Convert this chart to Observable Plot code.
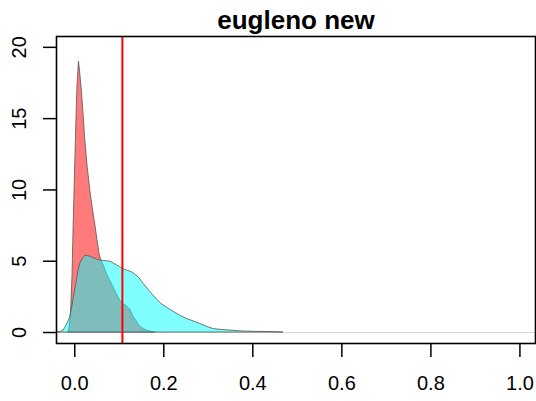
<!DOCTYPE html>
<html>
<head>
<meta charset="utf-8">
<script src="https://cdn.jsdelivr.net/npm/d3@7"></script>
<script src="https://cdn.jsdelivr.net/npm/@observablehq/plot@0.6"></script>
<style>
  html, body { margin: 0; padding: 0; background: #fff; }
  #chart svg { display: block; }
</style>
</head>
<body>
<div id="chart"></div>
<script>
const title = "eugleno new";

const redX = [-0.014, -0.011, -0.008, -0.005, -0.003, 0.000, 0.003, 0.006, 0.0094, 0.012, 0.016, 0.020, 0.0236, 0.029, 0.0348, 0.040, 0.046, 0.051, 0.0557, 0.0596, 0.065, 0.0723, 0.080, 0.087, 0.095, 0.102, 0.110, 0.117, 0.125, 0.132, 0.140, 0.147, 0.155, 0.162, 0.172, 0.181];
const redY = [0, 0.4, 1.6, 4.0, 6.8, 10.5, 14.0, 17.2, 19.0, 18.3, 16.9, 15.2, 13.5, 11.6, 10.0, 8.8, 7.6, 6.5, 5.5, 5.05, 4.7, 4.1, 3.6, 3.18, 2.65, 2.24, 1.95, 1.85, 1.6, 1.1, 0.75, 0.4, 0.25, 0.14, 0.05, 0];

const cyanX = [-0.040, -0.034, -0.030, -0.025, -0.020, -0.015, -0.010, -0.005, 0.000, 0.005, 0.0086, 0.012, 0.016, 0.020, 0.024, 0.030, 0.036, 0.042, 0.050, 0.057, 0.065, 0.072, 0.080, 0.087, 0.094, 0.102, 0.108, 0.113, 0.120, 0.128, 0.135, 0.143, 0.150, 0.155, 0.165, 0.175, 0.185, 0.195, 0.207, 0.222, 0.237, 0.252, 0.267, 0.282, 0.297, 0.312, 0.330, 0.350, 0.372, 0.402, 0.440, 0.469];
const cyanY = [0, 0.02, 0.05, 0.14, 0.4, 0.7, 1.07, 1.9, 2.8, 3.7, 4.35, 4.8, 5.05, 5.25, 5.38, 5.36, 5.3, 5.22, 5.12, 5.05, 5.02, 5.0, 4.97, 4.85, 4.72, 4.58, 4.48, 4.4, 4.32, 4.23, 4.08, 3.88, 3.62, 3.41, 3.02, 2.66, 2.3, 2.0, 1.75, 1.45, 1.18, 0.95, 0.78, 0.6, 0.4, 0.24, 0.18, 0.14, 0.08, 0.05, 0.03, 0];

const xTicks = [0, 0.2, 0.4, 0.6, 0.8, 1.0];
const yTicks = [0, 5, 10, 15, 20];
const vlineX = [0.107];

const red = redX.map((x, i) => ({x, y: redY[i]}));
const cyan = cyanX.map((x, i) => ({x, y: cyanY[i]}));

const chart = Plot.plot({
  width: 536,
  height: 401,
  marginTop: 36,
  marginBottom: 58,
  marginLeft: 56,
  marginRight: 1,
  style: {fontFamily: "'Liberation Sans', Arial, sans-serif", background: "#fff", color: "#000"},
  x: {domain: [-0.041, 1.035], ticks: xTicks, tickFormat: d3.format(".1f"), label: null},
  y: {domain: [-0.77, 20.76], ticks: yTicks, label: null},
  marks: [
    Plot.ruleY([0], {stroke: "#d8d8d8", strokeWidth: 1}),
    Plot.areaY(red, {x: "x", y: "y", fill: "#ff0000", fillOpacity: 0.52, stroke: "#555", strokeWidth: 0.8}),
    Plot.areaY(cyan, {x: "x", y: "y", fill: "#00ffff", fillOpacity: 0.5, stroke: "#555", strokeWidth: 0.8}),
    Plot.ruleX(vlineX, {stroke: "#ff0000", strokeWidth: 2}),
    Plot.frame({stroke: "#000", strokeWidth: 1.6}),
    Plot.axisX({ticks: xTicks, tickFormat: d3.format(".1f"), tickSize: 14, tickPadding: 18, fontSize: 20, stroke: "#000", strokeWidth: 1.5}),
    Plot.axisY({ticks: yTicks, tickSize: 13, tickPadding: 18, tickRotate: -90, fontSize: 20, stroke: "#000", strokeWidth: 1.5}),
    Plot.text([title], {frameAnchor: "top", dy: -16, lineAnchor: "middle", fontSize: 26, fontWeight: "bold", fill: "#000"})
  ]
});
document.getElementById("chart").appendChild(chart);
</script>
</body>
</html>
